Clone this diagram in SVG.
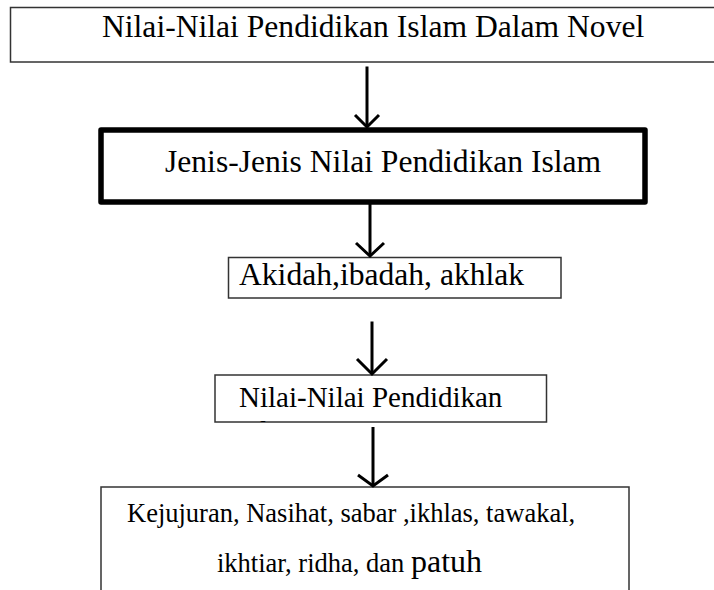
<svg xmlns="http://www.w3.org/2000/svg" width="714" height="590" viewBox="0 0 714 590">
<style>
.box{fill:#fff;stroke:#333;stroke-width:1.5}
.thick{fill:#fff;stroke:#000;stroke-width:5.5;stroke-linejoin:round}
.t{font-family:"Liberation Serif","Times New Roman",serif;fill:#000}
.arr{stroke:#000;stroke-width:3;fill:none}
</style>
<defs>
<clipPath id="clip4"><rect x="215" y="375" width="332" height="47"/></clipPath>
</defs>
<rect width="714" height="590" fill="#fff"/>
<g id="n1">
<rect class="box" x="10.5" y="7.5" width="720" height="54.5"/>
<text class="t" x="102" y="37" font-size="31.6">Nilai-Nilai Pendidikan Islam Dalam Novel</text>
</g>
<g id="n2">
<rect class="thick" x="101" y="130" width="544" height="72"/>
<text class="t" x="165" y="172" font-size="31.6">Jenis-Jenis Nilai Pendidikan Islam</text>
</g>
<g id="n3">
<rect class="box" x="228.5" y="257.5" width="332.5" height="40.5"/>
<text class="t" x="239" y="285" font-size="31.6">Akidah,ibadah, akhlak</text>
</g>
<g id="n4">
<rect class="box" x="215" y="375" width="331.5" height="47"/>
<g clip-path="url(#clip4)">
<text class="t" x="239" y="406.5" font-size="29">Nilai-Nilai Pendidikan</text>
<text class="t" x="239" y="441" font-size="29">Islam</text>
</g>
</g>
<g id="n5">
<rect class="box" x="101" y="487" width="528" height="120"/>
<text class="t" x="127" y="521.5" font-size="26.5">Kejujuran, Nasihat, sabar ,ikhlas, tawakal,</text>
<text class="t" x="217" y="571.5" font-size="26.5">ikhtiar, ridha, dan <tspan font-size="32">patuh</tspan></text>
</g>
<g id="connectors">
<line class="arr" x1="367" y1="66.5" x2="367" y2="127"/>
<polyline class="arr" points="355,115 367,127 379,115"/>
<line class="arr" x1="370" y1="204" x2="370" y2="256"/>
<polyline class="arr" points="356,243 370,256 384,243"/>
<line class="arr" x1="372" y1="321.5" x2="372" y2="374"/>
<polyline class="arr" points="357,359 372,374 387,359"/>
<line class="arr" x1="373" y1="427" x2="373" y2="486"/>
<polyline class="arr" points="358,475 373,486 388,475"/>
</g>
</svg>
